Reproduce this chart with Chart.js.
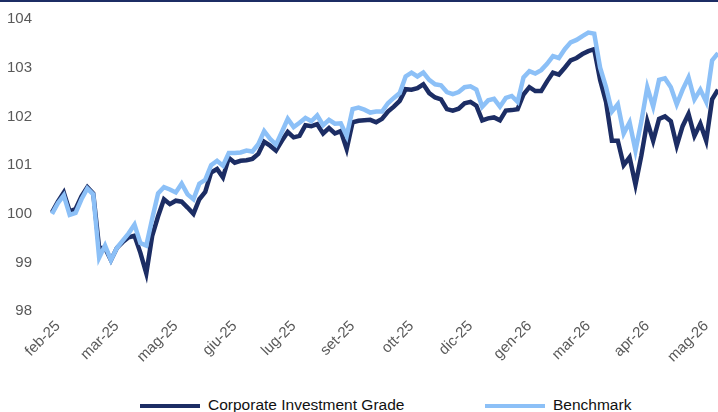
<!DOCTYPE html>
<html>
<head>
<meta charset="utf-8">
<script src="https://cdn.jsdelivr.net/npm/chart.js@4.4.1/dist/chart.umd.min.js"></script>
<style>
  html, body { margin: 0; padding: 0; background: #fff; overflow: hidden; }
  #wrap { position: relative; width: 718px; height: 412px; }
  #topline { position: absolute; left: 0; top: 0; width: 718px; height: 2px; background: #1c2d64; }
  #box { position: absolute; left: 0; top: 0; width: 718px; height: 372px; }
  .sw { position: absolute; width: 60px; height: 4px; top: 404px; }
  .lt { position: absolute; top: 396px; font: 15.5px "Liberation Sans", Arial, sans-serif; line-height: 18px; color: #111; white-space: nowrap; }
</style>
</head>
<body>
<div id="wrap">
  <div id="box"><canvas id="trend"></canvas></div>
  <div id="topline"></div>
  <div class="sw" style="left:140px;background:#1c2d64"></div>
  <div class="lt" style="left:208px">Corporate Investment Grade</div>
  <div class="sw" style="left:485px;background:#8cc0f7"></div>
  <div class="lt" style="left:553px">Benchmark</div>
</div>
<script>
// month labels shown every 10 points
const monthLabels = ['feb-25', 'mar-25', 'mag-25', 'giu-25', 'lug-25', 'set-25',
                     'ott-25', 'dic-25', 'gen-26', 'mar-26', 'apr-26', 'mag-26'];

// Corporate Investment Grade
const cig = [
  100.03, 100.25, 100.44, 100.05, 100.10, 100.36, 100.55, 100.42, 99.30, 99.30,
  99.05, 99.30, 99.42, 99.52, 99.55, 99.20, 98.78, 99.55, 99.95, 100.30,
  100.20, 100.27, 100.25, 100.13, 100.00, 100.30, 100.45, 100.85, 100.92, 100.75,
  101.15, 101.05, 101.09, 101.10, 101.13, 101.23, 101.48, 101.40, 101.30, 101.50,
  101.68, 101.57, 101.60, 101.82, 101.80, 101.84, 101.65, 101.76, 101.65, 101.70,
  101.33, 101.88, 101.91, 101.92, 101.93, 101.88, 101.95, 102.10, 102.20, 102.32,
  102.56, 102.55, 102.58, 102.66, 102.48, 102.39, 102.35, 102.15, 102.12, 102.16,
  102.27, 102.30, 102.22, 101.92, 101.96, 101.98, 101.92, 102.12, 102.13, 102.15,
  102.45, 102.60, 102.52, 102.52, 102.72, 102.90, 102.86, 103.00, 103.15, 103.20,
  103.28, 103.34, 103.38, 102.75, 102.30, 101.50, 101.50, 101.00, 101.16, 100.60,
  101.20, 101.90, 101.50, 101.95, 102.00, 101.90, 101.40, 101.80, 102.05, 101.60,
  101.85, 101.50, 102.35, 102.55
];

// Benchmark
const bench = [
  100.00, 100.22, 100.38, 99.98, 100.02, 100.30, 100.52, 100.40, 99.10, 99.35,
  99.05, 99.30, 99.45, 99.60, 99.78, 99.40, 99.35, 99.90, 100.42, 100.55,
  100.50, 100.44, 100.62, 100.40, 100.30, 100.62, 100.70, 101.00, 101.09, 100.99,
  101.25, 101.25, 101.26, 101.30, 101.28, 101.43, 101.70, 101.54, 101.42, 101.68,
  101.95, 101.78, 101.87, 101.97, 101.90, 102.02, 101.82, 101.93, 101.85, 101.86,
  101.60, 102.15, 102.18, 102.14, 102.08, 102.10, 102.10, 102.27, 102.38, 102.48,
  102.82, 102.90, 102.82, 102.90, 102.75, 102.66, 102.64, 102.50, 102.46, 102.50,
  102.60, 102.62, 102.55, 102.20, 102.33, 102.36, 102.20, 102.38, 102.42, 102.30,
  102.80, 102.93, 102.88, 102.95, 103.08, 103.24, 103.20, 103.38, 103.52, 103.57,
  103.65, 103.72, 103.70, 103.00, 102.60, 102.10, 102.25, 101.65, 101.88, 101.30,
  101.90, 102.60, 102.20, 102.75, 102.78, 102.60, 102.25, 102.55, 102.80, 102.35,
  102.55, 102.30, 103.15, 103.30
];

const labels = cig.map((v, i) => (i % 10 === 1 ? monthLabels[(i - 1) / 10] : ''));

const tickFont = { family: '"Liberation Sans", Arial, sans-serif', size: 15 };

const ctx = document.getElementById('trend').getContext('2d');
const trendChart = new Chart(ctx, {
    type: 'line',
    data: {
        labels: labels,
        datasets: [{
            label: 'Benchmark',
            data: bench,
            borderColor: '#8cc0f7',
            borderWidth: 4.5,
            pointRadius: 0,
            tension: 0
        }, {
            label: 'Corporate Investment Grade',
            data: cig,
            borderColor: '#1c2d64',
            borderWidth: 4.5,
            pointRadius: 0,
            tension: 0
        }]
    },
    options: {
        responsive: true,
        maintainAspectRatio: false,
        animation: false,
        layout: {
            autoPadding: false,
            padding: { left: 7, top: 19, right: 0, bottom: 0 }
        },
        plugins: {
            legend: { display: false },
            tooltip: { enabled: false }
        },
        scales: {
            x: {
                grid: { display: false, drawTicks: false },
                border: { display: false },
                afterFit: function(scale) {
                    // let the rotated first label hang under the y axis
                    scale.paddingLeft = 0;
                    scale.paddingRight = 0;
                },
                ticks: {
                    autoSkip: false,
                    minRotation: 45,
                    maxRotation: 45,
                    padding: 6,
                    color: '#595959',
                    font: tickFont,
                    callback: function(value, index) {
                        return labels[index] || null;
                    }
                }
            },
            y: {
                min: 98,
                max: 104,
                grid: { display: false, drawTicks: false },
                border: { display: false },
                afterFit: function(scale) {
                    scale.width = 45;
                    scale.paddingTop = 0;
                    scale.paddingBottom = 0;
                },
                ticks: {
                    stepSize: 1,
                    padding: 20,
                    color: '#595959',
                    font: tickFont
                }
            }
        }
    }
});
</script>
</body>
</html>
